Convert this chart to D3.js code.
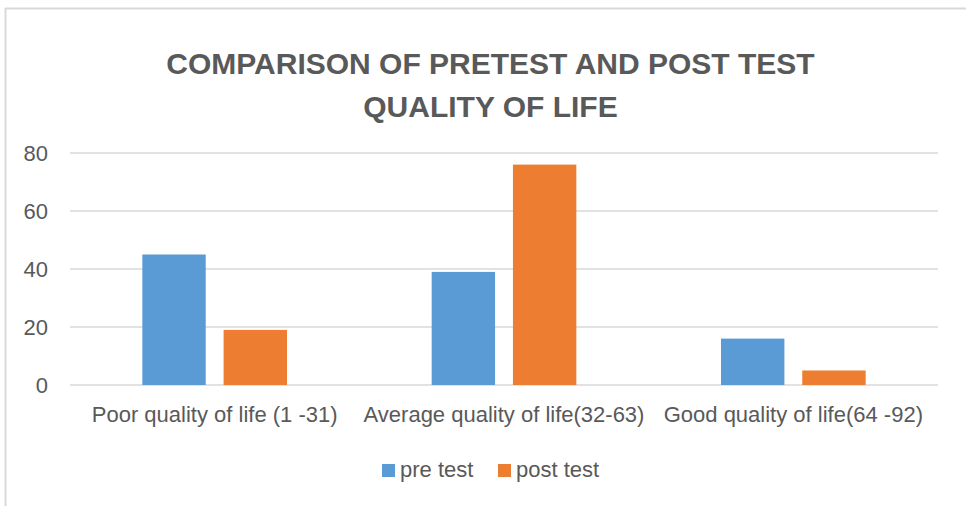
<!DOCTYPE html>
<html>
<head>
<meta charset="utf-8">
<script src="https://cdn.jsdelivr.net/npm/d3@7"></script>
<style>
  body { margin: 0; background: #fff; }
  svg text { font-family: "Liberation Sans Narrow", "Liberation Sans", sans-serif; fill: #595959; }
</style>
</head>
<body>
<div id="chart"></div>
<script>
// data
const categories = ["Poor quality of life (1 -31)", "Average quality of life(32-63)", "Good quality of life(64 -92)"];
const seriesNames = ["pre test", "post test"];
const preTest = [45, 39, 16];
const postTest = [19, 76, 5];
const yTicks = [0, 20, 40, 60, 80];
const titleLines = ["COMPARISON OF PRETEST AND POST TEST", "QUALITY OF LIFE"];

const colors = ["#5B9BD5", "#ED7D31"];

const width = 966, height = 506;

const svg = d3.select("#chart")
  .append("svg")
  .attr("width", width)
  .attr("height", height);

// chart frame (only top and left edges are inside the picture)
svg.append("line")
  .attr("x1", 5).attr("x2", width)
  .attr("y1", 8.5).attr("y2", 8.5)
  .attr("stroke", "#d9d9d9").attr("stroke-width", 2);
svg.append("line")
  .attr("x1", 5.5).attr("x2", 5.5)
  .attr("y1", 8).attr("y2", height)
  .attr("stroke", "#d9d9d9").attr("stroke-width", 2);

// title
svg.selectAll(".title")
  .data(titleLines)
  .enter()
  .append("text")
  .attr("class", "title")
  .attr("x", 490.5)
  .attr("y", (d, i) => 74 + i * 43)
  .attr("text-anchor", "middle")
  .style("font-weight", "bold")
  .style("font-size", "30px")
  .text(d => d);

// scales
const x0 = d3.scaleBand()
  .domain(categories)
  .range([70, 938])
  .paddingInner(0.5)
  .paddingOuter(0.25);

const x1 = d3.scaleBand()
  .domain(seriesNames)
  .range([0, x0.bandwidth()])
  .paddingInner(0.22);

const y = d3.scaleLinear()
  .domain([0, 80])
  .range([385, 153]);

// gridlines
svg.append("g")
  .selectAll("line")
  .data(yTicks)
  .enter()
  .append("line")
  .attr("x1", 70).attr("x2", 938)
  .attr("y1", d => y(d)).attr("y2", d => y(d))
  .attr("stroke", "#d9d9d9")
  .attr("stroke-width", 1.5);

// y axis labels
const yAxis = d3.axisLeft(y).tickValues(yTicks).tickSize(0).tickPadding(0);
svg.append("g")
  .attr("transform", "translate(48,0)")
  .call(yAxis)
  .call(g => g.select(".domain").remove())
  .selectAll("text")
  .style("font-size", "22px")
  .attr("fill", "#595959");

// x axis labels
const xAxis = d3.axisBottom(x0).tickSize(0).tickPadding(0);
svg.append("g")
  .attr("transform", "translate(0,406)")
  .call(xAxis)
  .call(g => g.select(".domain").remove())
  .selectAll("text")
  .style("font-size", "22px")
  .attr("fill", "#595959");

// bars
const rows = categories.map((c, i) => ({ cat: c, values: [preTest[i], postTest[i]] }));

const groups = svg.append("g")
  .selectAll("g")
  .data(rows)
  .enter()
  .append("g")
  .attr("transform", d => "translate(" + x0(d.cat) + ",0)");

groups.selectAll("rect")
  .data(d => d.values.map((v, j) => ({ key: seriesNames[j], value: v, j: j })))
  .enter()
  .append("rect")
  .attr("x", d => x1(d.key))
  .attr("width", x1.bandwidth())
  .attr("y", d => y(d.value))
  .attr("height", d => y(0) - y(d.value))
  .attr("fill", d => colors[d.j]);

// legend
const legendX = [382, 498];
const legend = svg.append("g")
  .selectAll("g")
  .data(seriesNames)
  .enter()
  .append("g")
  .attr("transform", (d, i) => "translate(" + legendX[i] + ",464)");

legend.append("rect")
  .attr("width", 13)
  .attr("height", 13)
  .attr("fill", (d, i) => colors[i]);

legend.append("text")
  .attr("x", 18)
  .attr("y", 13)
  .style("font-size", "22px")
  .text(d => d);
</script>
</body>
</html>
